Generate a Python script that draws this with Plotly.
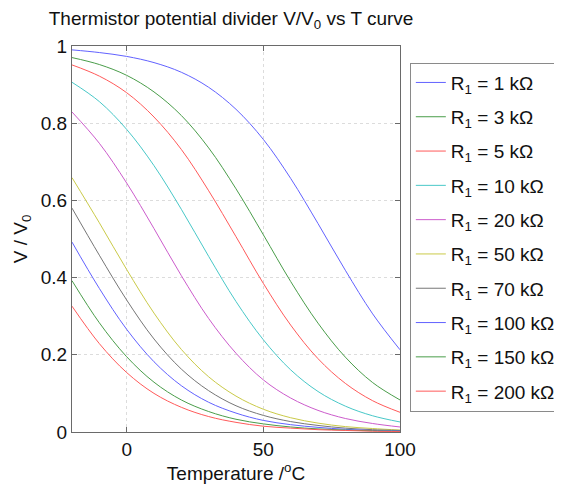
import plotly.graph_objects as go

# Temperature samples (deg C)
temps = [-20, -10, 0, 10, 20, 30, 40, 50, 60, 70, 80, 90, 100]

labels = ["1", "3", "5", "10", "20", "50", "70", "100", "150", "200"]

# V/V0 at the temperatures above
v_1k = [0.990, 0.983, 0.973, 0.957, 0.932, 0.893, 0.836, 0.758, 0.657, 0.540, 0.419, 0.306, 0.213]
v_3k = [0.970, 0.952, 0.924, 0.881, 0.820, 0.736, 0.630, 0.511, 0.390, 0.282, 0.194, 0.128, 0.083]
v_5k = [0.951, 0.922, 0.879, 0.816, 0.732, 0.625, 0.506, 0.385, 0.277, 0.190, 0.126, 0.081, 0.051]
v_10k = [0.906, 0.856, 0.784, 0.690, 0.577, 0.455, 0.338, 0.239, 0.161, 0.105, 0.067, 0.042, 0.026]
v_20k = [0.829, 0.748, 0.645, 0.527, 0.405, 0.294, 0.204, 0.135, 0.088, 0.056, 0.035, 0.022, 0.013]
v_50k = [0.659, 0.542, 0.421, 0.308, 0.214, 0.143, 0.093, 0.059, 0.037, 0.023, 0.014, 0.009, 0.005]
v_70k = [0.580, 0.458, 0.342, 0.241, 0.163, 0.107, 0.068, 0.043, 0.027, 0.017, 0.010, 0.006, 0.004]
v_100k = [0.492, 0.372, 0.266, 0.182, 0.120, 0.077, 0.049, 0.030, 0.019, 0.012, 0.007, 0.004, 0.003]
v_150k = [0.392, 0.283, 0.195, 0.129, 0.083, 0.053, 0.033, 0.021, 0.013, 0.008, 0.005, 0.003, 0.002]
v_200k = [0.326, 0.229, 0.154, 0.100, 0.064, 0.040, 0.025, 0.015, 0.010, 0.006, 0.004, 0.002, 0.001]

series = [v_1k, v_3k, v_5k, v_10k, v_20k, v_50k, v_70k, v_100k, v_150k, v_200k]

# MATLAB-style colour order, softened a bit like the anti-aliased original
colors = ["#6262ff", "#4a9d4a", "#ff5a5a", "#48c8c8", "#cc5ccc",
          "#caca48", "#767676", "#6262ff", "#4a9d4a", "#ff5a5a"]

FONT = "Liberation Sans, Arial, sans-serif"
FS = 19

fig = go.Figure()
for i, (lab, vals) in enumerate(zip(labels, series)):
    fig.add_trace(go.Scatter(
        x=temps, y=vals, mode="lines",
        name=f"R<sub>1</sub> = {lab} kΩ",
        line={"color": colors[i], "width": 1, "shape": "spline", "smoothing": 1.0},
        legendgroup=f"g{i}",
    ))

axis_common = dict(
    showline=True, linecolor="#6a6a6a", linewidth=1, mirror="ticks",
    ticks="inside", ticklen=5, tickcolor="#6a6a6a",
    showgrid=True, gridcolor="#dcdcdc", griddash="dot", gridwidth=1,
    zeroline=False, tickfont={"size": FS, "color": "#111"}, automargin=False,
)

fig.update_xaxes(range=[-20, 100], tickvals=[0, 50, 100],
                 title={"text": "Temperature /<sup>o</sup>C", "font": {"size": FS, "color": "#111"}, "standoff": 4},
                 **axis_common)
fig.update_yaxes(range=[0, 1], tickvals=[0, 0.2, 0.4, 0.6, 0.8, 1],
                 ticktext=["0", "0.2", "0.4", "0.6", "0.8", "1"],
                 title={"text": "V / V<sub>0</sub>", "font": {"size": FS, "color": "#111"}, "standoff": 8},
                 **axis_common)

# page body keeps an 8px margin, so the figure is 8px smaller than the window
fig.update_layout(
    width=554, height=478,
    margin={"l": 64, "r": 162, "t": 38, "b": 54, "autoexpand": False},
    paper_bgcolor="white", plot_bgcolor="white",
    font={"family": FONT, "size": FS, "color": "#111"},
    title={"text": "Thermistor potential divider V/V<sub>0</sub> vs T curve",
           "x": 0.485, "xref": "paper", "xanchor": "center",
           "y": 0.978, "yanchor": "middle", "font": {"size": FS}},
    legend={"x": 1.03, "y": 0.957, "xanchor": "left", "yanchor": "top",
            "bordercolor": "#8a8a8a", "borderwidth": 1, "bgcolor": "white",
            "font": {"size": FS}, "tracegroupgap": 6.6, "itemwidth": 30,
            "entrywidth": 150, "entrywidthmode": "pixels"},
    showlegend=True,
)

fig.write_html("out.html")
